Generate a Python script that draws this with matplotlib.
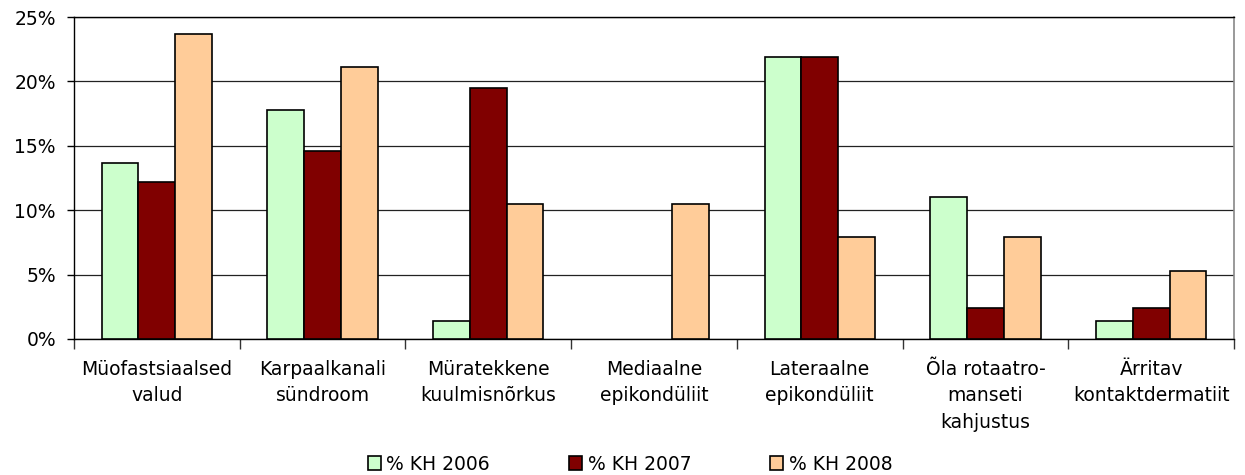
import matplotlib
matplotlib.use("Agg")
import matplotlib.pyplot as plt
import numpy as np
from matplotlib.ticker import FuncFormatter, FixedLocator

categories = [
    "Müofastsiaalsed\nvalud",
    "Karpaalkanali\nsündroom",
    "Müratekkene\nkuulmisnõrkus",
    "Mediaalne\nepikondüliit",
    "Lateraalne\nepikondüliit",
    "Õla rotaatro-\nmanseti\nkahjustus",
    "Ärritav\nkontaktdermatiit",
]
series_names = ["% KH 2006", "% KH 2007", "% KH 2008"]
kh_2006 = [13.7, 17.8, 1.4, 0.0, 21.9, 11.0, 1.4]
kh_2007 = [12.2, 14.6, 19.5, 0.0, 21.9, 2.4, 2.4]
kh_2008 = [23.7, 21.1, 10.5, 10.5, 7.9, 7.9, 5.3]
colors = ["#CCFFCC", "#800000", "#FFCC99"]

plt.rcParams['font.family'] = ['DejaVu Sans']
fig = plt.figure(figsize=(12.45, 4.75), dpi=100)
ax = fig.add_axes([74/1245, 1-339/475, (1234-74)/1245, (339-17)/475])

x = np.arange(len(categories))
w = 0.222
for i, (vals, c, name) in enumerate(zip([kh_2006, kh_2007, kh_2008], colors, series_names)):
    lws = [1.2 if v > 0 else 0 for v in vals]
    ax.bar(x + (i-1)*w, vals, width=w, color=c, edgecolor='black', linewidth=lws,
           label=name, zorder=3)

ax.set_xlim(-0.5, len(categories)-0.5)
ax.set_ylim(0, 25)
ax.set_yticks([0, 5, 10, 15, 20, 25])
ax.yaxis.set_major_formatter(FuncFormatter(lambda v, p: f"{int(v)}%"))
ax.grid(axis='y', color='#222222', linewidth=0.9, zorder=0)
ax.set_axisbelow(True)

ax.set_xticks(x)
ax.set_xticklabels(categories, fontsize=13.5, linespacing=1.5)
ax.tick_params(axis='x', which='major', length=0, pad=15)
ax.xaxis.set_minor_locator(FixedLocator(np.arange(-0.5, len(categories), 1.0)))
ax.tick_params(axis='x', which='minor', length=7, width=1, direction='out', color='#333333')
ax.tick_params(axis='y', length=5, width=1, direction='out', labelsize=13.5, pad=8)

for s in ['left', 'bottom', 'top']:
    ax.spines[s].set_color('black')
    ax.spines[s].set_linewidth(1)
ax.spines['right'].set_color('#888888')
ax.spines['right'].set_linewidth(1.2)

handles, labels = ax.get_legend_handles_labels()
leg = fig.legend(handles, labels, loc='center', bbox_to_anchor=(630/1245, 1-464/475),
                 ncol=3, frameon=False, fontsize=13.5, handlelength=0.7, handleheight=0.7,
                 handletextpad=0.3, columnspacing=4.2)
for h in leg.legend_handles:
    h.set_linewidth(1.2)

fig.savefig("out.png", dpi=100)
